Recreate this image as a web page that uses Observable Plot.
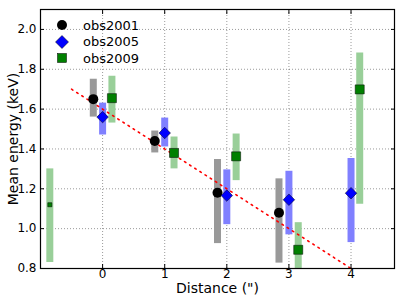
<!DOCTYPE html>
<html><head><meta charset="utf-8">
<script src="https://cdn.jsdelivr.net/npm/d3@7"></script>
<script src="https://cdn.jsdelivr.net/npm/@observablehq/plot@0.6"></script>
<style>
body{margin:0;background:#fff;font-family:"DejaVu Sans",sans-serif;}
#wrap{position:relative;width:407px;height:305px;}
#legend{position:absolute;left:51px;top:17px;font:13px "DejaVu Sans",sans-serif;color:#000;}
#legend div{display:flex;align-items:center;height:16.5px;}
#legend svg{width:22px;height:16px;margin-right:10px;}
</style></head>
<body><div id="wrap"><div id="chart"></div>
<div id="legend">
<div><svg viewBox="0 0 22 16"><circle cx="11" cy="8" r="5" fill="#000"/></svg>obs2001</div>
<div><svg viewBox="0 0 22 16"><polygon points="11,1.5 17.5,8 11,14.5 4.5,8" fill="#0000ff" stroke="#000" stroke-width="0.5"/></svg>obs2005</div>
<div><svg viewBox="0 0 22 16"><rect x="6.5" y="3.5" width="9" height="9" fill="#008000" stroke="#000" stroke-width="0.5"/></svg>obs2009</div>
</div></div>
<script>
// obs2001
const x2001 = [-0.15, 0.84, 1.85, 2.84];
const y2001 = [1.65, 1.44, 1.18, 1.08];
const lo2001 = [1.56, 1.38, 0.925, 0.827];
const hi2001 = [1.75, 1.49, 1.347, 1.25];
// obs2005
const x2005 = [0, 1, 2, 3, 4];
const y2005 = [1.56, 1.48, 1.166, 1.145, 1.178];
const lo2005 = [1.47, 1.41, 1.02, 0.969, 0.93];
const hi2005 = [1.63, 1.555, 1.295, 1.288, 1.352];
// obs2009
const x2009 = [-0.85, 0.15, 1.15, 2.15, 3.15, 4.14];
const y2009 = [1.12, 1.655, 1.38, 1.363, 0.894, 1.699];
const lo2009 = [0.83, 1.53, 1.30, 1.241, 0.80, 1.122];
const hi2009 = [1.30, 1.765, 1.46, 1.475, 1.03, 1.882];
const small2009 = [true, false, false, false, false, false];
// fit line
const fitX = [-0.5, 4];
const fitY = [1.7, 0.8];
const xTicks = [0, 1, 2, 3, 4];
const yTicks = [0.8, 1.0, 1.2, 1.4, 1.6, 1.8, 2.0];
const xLabel = "Distance (\")";
const yLabel = "Mean energy (keV)";

const d01 = x2001.map((x, i) => ({x, y: y2001[i], lo: lo2001[i], hi: hi2001[i]}));
const d05 = x2005.map((x, i) => ({x, y: y2005[i], lo: lo2005[i], hi: hi2005[i]}));
const d09 = x2009.map((x, i) => ({x, y: y2009[i], lo: lo2009[i], hi: hi2009[i], small: small2009[i]}));
const fit = fitX.map((x, i) => ({x, y: fitY[i]}));

const chart = Plot.plot({
  width: 407, height: 305,
  marginLeft: 40, marginRight: 13, marginTop: 9, marginBottom: 37,
  style: {fontFamily: "DejaVu Sans", fontSize: "12px", background: "#fff"},
  x: {domain: [-1, 4.7]},
  y: {domain: [0.8, 2.1]},
  marks: [
    Plot.gridX(xTicks, {stroke: "#000", strokeOpacity: 0.4, strokeDasharray: "1,2"}),
    Plot.gridY(yTicks, {stroke: "#000", strokeOpacity: 0.4, strokeDasharray: "1,2"}),
    Plot.ruleX(d01, {x: "x", y1: "lo", y2: "hi", stroke: "#999999", strokeWidth: 7}),
    Plot.ruleX(d05, {x: "x", y1: "lo", y2: "hi", stroke: "#8080ff", strokeWidth: 7}),
    Plot.ruleX(d09, {x: "x", y1: "lo", y2: "hi", stroke: "#99cf99", strokeWidth: 7}),
    Plot.line(fit, {x: "x", y: "y", stroke: "#ff0000", strokeWidth: 1.6, strokeDasharray: "1.6,4.5"}),
    Plot.dot(d01, {x: "x", y: "y", r: 5, fill: "#000", symbol: "circle"}),
    Plot.dot(d05, {x: "x", y: "y", r: 5.2, fill: "#0000ff", stroke: "#000", strokeWidth: 0.5, symbol: "diamond2"}),
    Plot.dot(d09.filter(d => !d.small), {x: "x", y: "y", r: 5.1, fill: "#008000", stroke: "#000", strokeWidth: 0.5, symbol: "square"}),
    Plot.dot(d09.filter(d => d.small), {x: "x", y: "y", r: 2.3, fill: "#008000", stroke: "#000", strokeWidth: 0.5, symbol: "square"}),
    Plot.frame({stroke: "#000", strokeWidth: 1.2}),
    Plot.axisX(xTicks, {anchor: "bottom", tickSize: -4, tickPadding: 5, label: null, fontSize: 12}),
    Plot.axisX(xTicks, {anchor: "top", tickSize: -4, tickFormat: () => "", label: null}),
    Plot.axisY(yTicks, {anchor: "left", tickSize: -4, tickPadding: 8, tickFormat: d3.format(".1f"), label: null, fontSize: 12}),
    Plot.axisY(yTicks, {anchor: "right", tickSize: -4, tickFormat: () => "", label: null}),
    Plot.text([xLabel], {frameAnchor: "bottom", text: d => d, textAnchor: "middle", dy: 24, fontSize: 14, fill: "#000"}),
    Plot.text([yLabel], {frameAnchor: "left", text: d => d, textAnchor: "middle", rotate: -90, dx: -27, fontSize: 14, fill: "#000"})
  ]
});
document.getElementById("chart").appendChild(chart);
</script></body></html>
